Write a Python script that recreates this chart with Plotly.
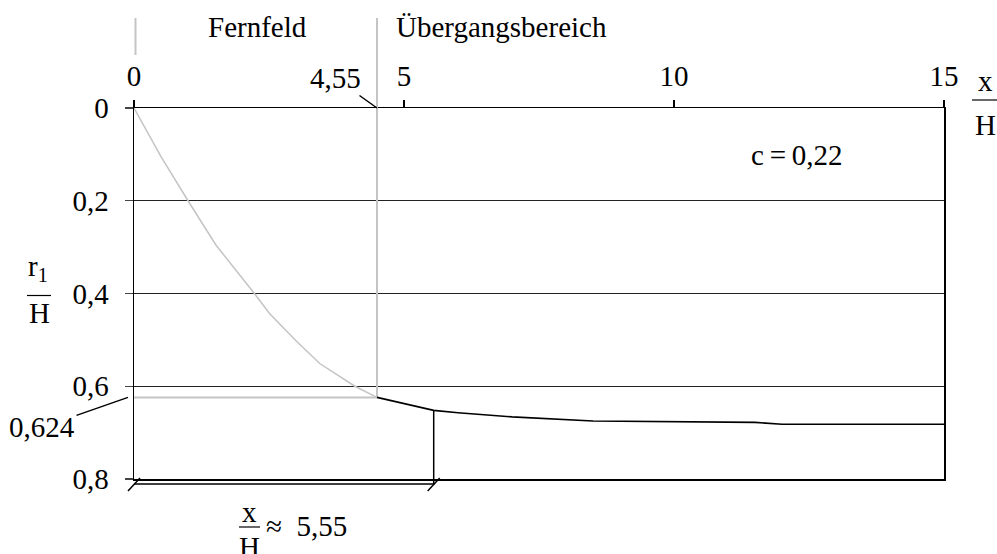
import plotly.graph_objects as go

# ---- data ----
X_TICKS = [0, 5, 10, 15]
Y_TICKS = [0, 0.2, 0.4, 0.6, 0.8]
X_FERN = 4.5          # boundary Fernfeld / Übergangsbereich (label 4,55)
Y_FERN = 0.624        # r1/H at the boundary
X_END = 5.55          # x/H ≈ 5,55
Y_END = 0.652

# far field curve (grey)
far_x = [0.0, 0.5, 1.0, 1.52, 2.23, 2.51, 3.0, 3.44, 4.09, 4.5]
far_y = [0.0, 0.105, 0.2, 0.296, 0.4, 0.443, 0.502, 0.551, 0.6, 0.624]

# transition curve (black)
tr_x = [4.5, 5.0, 5.55, 6.0, 7.0, 8.5, 9.5, 10.0, 11.5, 12.0, 15.0]
tr_y = [0.624, 0.637, 0.652, 0.657, 0.666, 0.675, 0.676, 0.678, 0.678, 0.682, 0.682]

C_LABEL = "c\u2009=\u20090,22"

# ---- layout geometry (page pixels) ----
W, H = 997, 554
PL, PR, PT, PB = 134, 944, 108, 479      # plot area in page pixels
ML, MT, MR, MB = PL, PT, W - PR, H - PB
PW, PH = PR - PL, PB - PT
FONT = "Liberation Serif, Times New Roman, serif"
FS = 29
GREY = "#c4c4c4"


def px(x):
    return (x - PL) / PW


def py(y):
    return (PB - y) / PH


fig = go.Figure()

fig.add_trace(go.Scatter(x=far_x, y=far_y, mode="lines",
                         line=dict(color=GREY, width=1.5), hoverinfo="skip"))
fig.add_trace(go.Scatter(x=[0, X_FERN], y=[Y_FERN, Y_FERN], mode="lines",
                         line=dict(color=GREY, width=2), hoverinfo="skip"))
fig.add_trace(go.Scatter(x=[X_FERN, X_FERN], y=[0, Y_FERN], mode="lines",
                         line=dict(color=GREY, width=2), hoverinfo="skip"))
fig.add_trace(go.Scatter(x=tr_x, y=tr_y, mode="lines",
                         line=dict(color="black", width=1.6), hoverinfo="skip"))
fig.add_trace(go.Scatter(x=[X_END, X_END], y=[Y_END, 0.8], mode="lines",
                         line=dict(color="black", width=1.5), hoverinfo="skip"))

shapes = []
# grey boundary lines above the plot
shapes.append(dict(type="line", xref="x", yref="paper", x0=X_FERN, x1=X_FERN,
                   y0=1, y1=py(18), line=dict(color=GREY, width=2)))
shapes.append(dict(type="line", xref="paper", yref="paper", x0=px(135.5), x1=px(135.5),
                   y0=py(55), y1=py(18), line=dict(color=GREY, width=2)))
# dimension line below the plot
shapes.append(dict(type="line", xref="x", yref="paper", x0=0, x1=X_END,
                   y0=py(484), y1=py(484), line=dict(color="black", width=1.5)))
shapes.append(dict(type="line", xref="x", yref="paper", x0=X_END, x1=X_END,
                   y0=0, y1=py(485), line=dict(color="black", width=1.5)))
for xv in (0, X_END):
    xc = xv / X_TICKS[-1]
    shapes.append(dict(type="line", xref="paper", yref="paper",
                       x0=xc - 6 / PW, x1=xc + 6 / PW,
                       y0=py(491), y1=py(478), line=dict(color="black", width=1.5)))
# fraction bars
shapes.append(dict(type="line", xref="paper", yref="paper", x0=px(972), x1=px(997),
                   y0=py(100), y1=py(100), line=dict(color="black", width=1.2)))
shapes.append(dict(type="line", xref="paper", yref="paper", x0=px(27), x1=px(51),
                   y0=py(295.5), y1=py(295.5), line=dict(color="black", width=1.2)))
shapes.append(dict(type="line", xref="paper", yref="paper", x0=px(239), x1=px(260),
                   y0=py(527), y1=py(527), line=dict(color="black", width=1.2)))

ann = []


def label(text, x, y, size=FS, xanchor="center", yanchor="middle"):
    ann.append(dict(text=text, xref="paper", yref="paper", x=px(x), y=py(y),
                    xanchor=xanchor, yanchor=yanchor, showarrow=False,
                    font=dict(family=FONT, size=size, color="black")))


label("Fernfeld", 257.5, 27.5)
label("Übergangsbereich", 501, 27.5)
label(C_LABEL, 797, 155)
label("x", 985, 80.5)
label("H", 985, 125)
label("r<sub>1</sub>", 38, 268)
label("H", 39, 313)
label("x", 249, 511.5)
label("H", 249, 547)
label("\u2248\u20025,55", 264, 526, size=FS, xanchor="left")

ann.append(dict(text="4,55", xref="x", yref="paper", x=X_FERN, y=1,
                ax=-42, ay=-30, showarrow=True, arrowhead=0, arrowwidth=1.5,
                arrowcolor="black", standoff=0,
                font=dict(family=FONT, size=FS, color="black")))
ann.append(dict(text="0,624", xref="paper", yref="y", x=px(128), y=Y_FERN,
                ax=-86, ay=30, showarrow=True, arrowhead=0, arrowwidth=1.5,
                arrowcolor="black", standoff=0,
                font=dict(family=FONT, size=FS, color="black")))

fig.update_layout(
    width=W, height=H, autosize=False,
    margin=dict(l=ML, r=MR, t=MT, b=MB, pad=0),
    paper_bgcolor="white", plot_bgcolor="white",
    showlegend=False, separators=",.",
    font=dict(family=FONT, size=FS, color="black"),
    shapes=shapes, annotations=ann,
)
fig.update_xaxes(range=[0, 15], side="top", tickvals=X_TICKS, ticks="outside",
                 ticklen=7, tickwidth=1.2, tickcolor="black", showgrid=False,
                 zeroline=False, showline=True, mirror=True, linecolor="black",
                 linewidth=1.5, automargin=False, fixedrange=True,
                 ticklabelstandoff=2,
                 tickfont=dict(family=FONT, size=FS, color="black"))
fig.update_yaxes(range=[0.8, 0], tickvals=Y_TICKS, ticks="outside",
                 ticklen=8, tickwidth=1.2, tickcolor="#444", showgrid=True,
                 gridcolor="#222", gridwidth=1, zeroline=False, showline=True,
                 mirror=True, linecolor="black", linewidth=1.5, automargin=False,
                 fixedrange=True, ticklabelstandoff=10,
                 tickfont=dict(family=FONT, size=FS, color="black"))

page_css = ("document.documentElement.style.overflow='hidden';"
            "document.body.style.margin='0';"
            "document.body.style.overflow='hidden';")
fig.write_html("out.html", post_script=page_css,
               config={"displayModeBar": False, "staticPlot": True})
